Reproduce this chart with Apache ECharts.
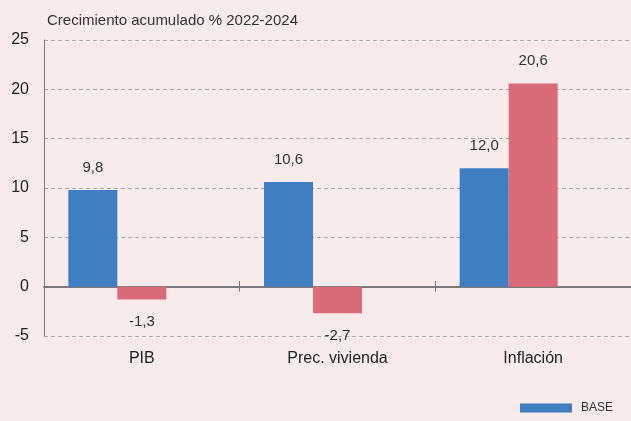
<!DOCTYPE html>
<html>
<head>
<meta charset="utf-8">
<script src="https://cdn.jsdelivr.net/npm/echarts@6/dist/echarts.min.js"></script>
<style>
  html, body { margin: 0; padding: 0; background: #f8ebeb; }
  #chart { width: 631px; height: 421px; }
</style>
</head>
<body>
<div id="chart"></div>
<script>
var categories = ['PIB', 'Prec. vivienda', 'Inflación'];
var baseValues = [9.8, 10.6, 12.0];
var adverseValues = [-1.3, -2.7, 20.6];
var thirdValues = [null, null, null];
var yTicks = { min: -5, max: 25, interval: 5 };

var fmt = function (p) { return p.value.toFixed(1).replace('.', ','); };
var font = 'Liberation Sans, Arial, sans-serif';

var myChart = echarts.init(document.getElementById('chart'));
var option = {
  backgroundColor: '#f8ebeb',
  title: {
    text: 'Crecimiento acumulado % 2022-2024',
    left: 42,
    top: 8,
    textStyle: { fontFamily: font, fontSize: 15, fontWeight: 'normal', color: '#333' }
  },
  legend: {
    data: ['BASE'],
    right: 13,
    bottom: 2,
    itemWidth: 52,
    itemHeight: 9,
    textStyle: { fontFamily: font, fontSize: 12, color: '#333', padding: [0, 0, 0, 4] },
    icon: 'rect'
  },
  grid: { left: 44, right: -6, top: 40, bottom: 85 },
  xAxis: [
    {
      type: 'category',
      data: categories,
      axisLine: { onZero: true, lineStyle: { color: '#7a7a7a', width: 2 } },
      axisTick: { show: true, length: 5, lineStyle: { color: '#7a7a7a' } },
      axisLabel: { margin: 15, fontFamily: font, fontSize: 16, color: '#222' }
    },
    {
      // upper half of the ticks that cross the zero line
      type: 'category',
      data: categories,
      position: 'bottom',
      offset: -49,
      axisLine: { show: false, onZero: false },
      axisTick: { show: true, inside: true, length: 6, lineStyle: { color: '#7a7a7a' } },
      axisLabel: { show: false }
    }
  ],
  yAxis: {
    type: 'value',
    min: yTicks.min,
    max: yTicks.max,
    interval: yTicks.interval,
    axisLine: { show: true, lineStyle: { color: '#7a7a7a' } },
    axisTick: { show: false },
    axisLabel: { margin: 15, fontFamily: font, fontSize: 16, color: '#222' },
    splitLine: { lineStyle: { color: '#a9a9a9', type: [4, 3] } }
  },
  series: [
    {
      name: 'BASE',
      type: 'bar',
      data: baseValues,
      barWidth: 49,
      barGap: '0%',
      itemStyle: { color: '#3f7ec1' },
      label: { show: true, position: 'top', distance: 15, formatter: fmt,
               fontFamily: font, fontSize: 15, color: '#333' }
    },
    {
      name: 'ADVERSO',
      type: 'bar',
      data: adverseValues.map(function (v) {
        // negative values get their label below the bar
        return v < 0 ? { value: v, label: { position: 'bottom' } } : v;
      }),
      barWidth: 49,
      barGap: '0%',
      itemStyle: { color: '#d96b7a' },
      label: { show: true, position: 'top', distance: 15, formatter: fmt,
               fontFamily: font, fontSize: 15, color: '#333' }
    },
    {
      name: 'OTRO',
      type: 'bar',
      data: thirdValues,
      barWidth: 49,
      barGap: '0%'
    }
  ]
};
myChart.setOption(option);
</script>
</body>
</html>
